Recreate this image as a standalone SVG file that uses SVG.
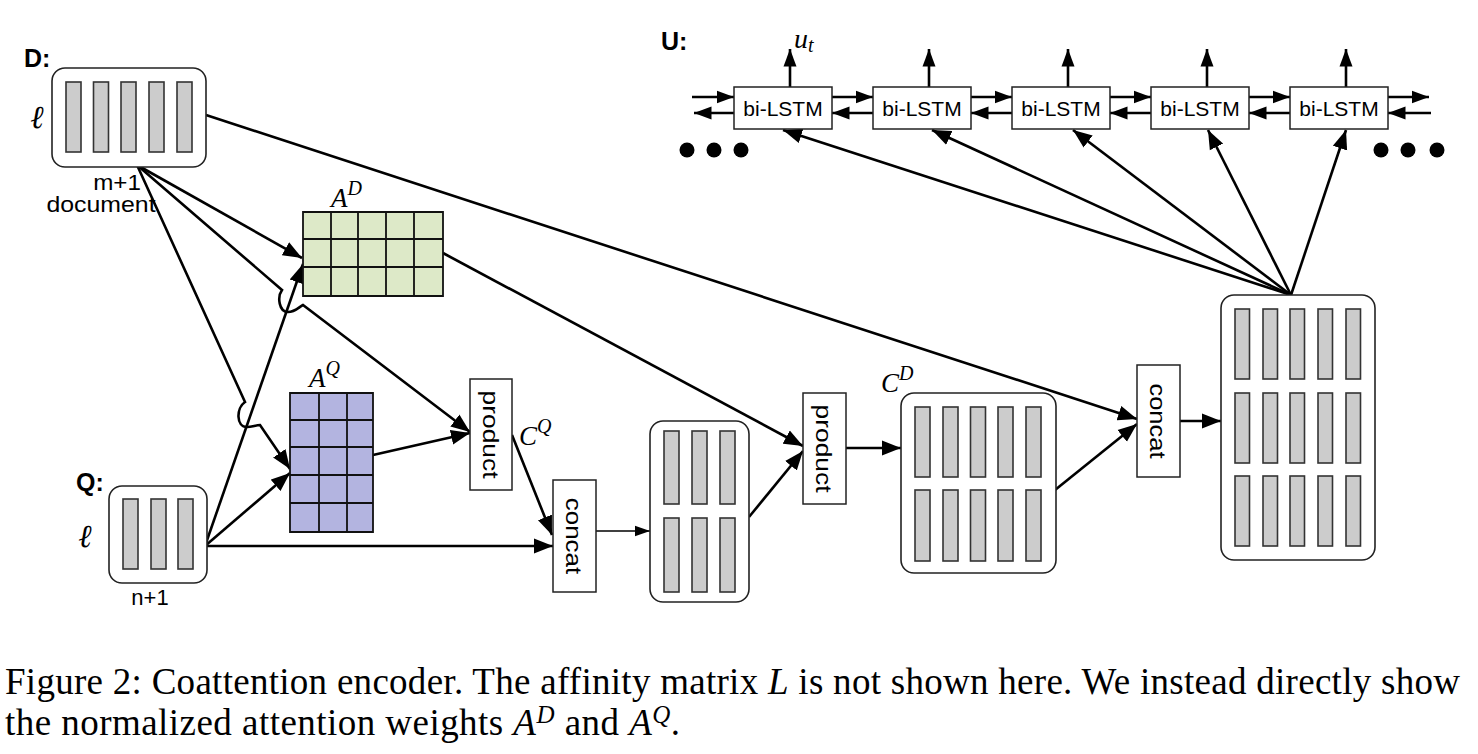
<svg xmlns="http://www.w3.org/2000/svg" width="1478" height="754" viewBox="0 0 1478 754">
<defs>
<marker id="ah" markerUnits="userSpaceOnUse" viewBox="0 0 20 16" markerWidth="20" markerHeight="16" refX="19" refY="8" orient="auto">
<path d="M0,0.5 L19,8 L0,15.5 z" fill="#000"/>
</marker>
<marker id="ahs" markerUnits="userSpaceOnUse" viewBox="0 0 18 14" markerWidth="18" markerHeight="14" refX="17.5" refY="7" orient="auto">
<path d="M0,0.5 L17.5,7 L0,13.5 z" fill="#000"/>
</marker>
<marker id="aht" markerUnits="userSpaceOnUse" viewBox="0 0 16 13" markerWidth="16" markerHeight="13" refX="15.5" refY="6.5" orient="auto">
<path d="M0,1 L15.5,6.5 L0,12 z" fill="#000"/>
</marker>
</defs>
<style>
.blk{fill:#fff;stroke:#222;stroke-width:1.6}
.bar{fill:#cccccc;stroke:#333;stroke-width:1.6}
.box{fill:#fff;stroke:#222;stroke-width:1.5}
.grid{fill:none;stroke:#111;stroke-width:1.8}
.ln{fill:none;stroke:#000;stroke-width:2.6;marker-end:url(#ah)}
.ls{fill:none;stroke:#000;stroke-width:2.6;marker-end:url(#ahs)}
.lt{fill:none;stroke:#000;stroke-width:1.5;marker-end:url(#aht)}
.sans{font-family:"Liberation Sans",Arial,sans-serif;fill:#000}
.bold{font-family:"Liberation Sans",Arial,sans-serif;font-weight:bold;font-size:25px;fill:#000}
.math{font-family:"Liberation Serif","DejaVu Serif",serif;font-style:italic;fill:#000}
.ell{font-family:"DejaVu Serif","Liberation Serif",serif;font-style:italic;font-size:32px;fill:#000}
.cap{font-family:"Liberation Serif","Times New Roman",serif;font-size:37px;fill:#000}
</style>

<g id="connectors">
<path class="ln" d="M206,115 L1137,419"/>
<path class="ln" d="M137,165 L302,258"/>
<path class="ln" d="M137,165 L282,290 C277,297 279,312 288,312 C295,312 299,307 303,305 L470,432"/>
<path class="ln" d="M137,165 L245,402 C236,408 236,427 247,427 C252,427 256,425 260,425 L290,469"/>
<path class="ln" d="M205,546 L303,264"/>
<path class="ln" d="M205,546 L290,473"/>
<path class="ln" d="M205,546 L553,546"/>
<path class="ln" d="M373,455 L470,433"/>
<path class="ln" d="M512,435 L552,535"/>
<path class="lt" d="M596,531 L650,531"/>
<path class="ln" d="M443,253 L803,446"/>
<path class="ln" d="M749,517 L803,451"/>
<path class="ln" d="M846,448 L901,448"/>
<path class="ln" d="M1055,490 L1137,424"/>
<path class="ln" d="M1180,421 L1221,421"/>
<path class="ln" d="M1291,295 L783,130"/>
<path class="ln" d="M1291,295 L932,130"/>
<path class="ln" d="M1291,295 L1073,130"/>
<path class="ln" d="M1291,295 L1208,130"/>
<path class="ln" d="M1291,295 L1346,130"/>
<path class="ls" d="M790,87 L790,49"/>
<path class="ls" d="M929,87 L929,49"/>
<path class="ls" d="M1068,87 L1068,49"/>
<path class="ls" d="M1207,87 L1207,49"/>
<path class="ls" d="M1346,87 L1346,49"/>
<path class="ls" d="M692,97 L734,97"/>
<path class="ls" d="M734,113 L694,113"/>
<path class="ls" d="M832,97 L873,97"/>
<path class="ls" d="M873,113 L832,113"/>
<path class="ls" d="M971,97 L1012,97"/>
<path class="ls" d="M1012,113 L971,113"/>
<path class="ls" d="M1110,97 L1151,97"/>
<path class="ls" d="M1151,113 L1110,113"/>
<path class="ls" d="M1249,97 L1290,97"/>
<path class="ls" d="M1290,113 L1249,113"/>
<path class="ls" d="M1388,97 L1429,97"/>
<path class="ls" d="M1431,113 L1388,113"/>
</g>

<g id="D">
<text class="bold" x="24" y="67">D:</text>
<rect class="blk" x="52" y="68" width="154" height="99" rx="13"/>
<rect class="bar" x="66" y="82" width="15" height="70"/>
<rect class="bar" x="93.5" y="82" width="15" height="70"/>
<rect class="bar" x="121" y="82" width="15" height="70"/>
<rect class="bar" x="149" y="82" width="15" height="70"/>
<rect class="bar" x="177" y="82" width="15" height="70"/>
<text class="ell" x="37" y="128" text-anchor="middle">ℓ</text>
<text class="sans" font-size="22" text-anchor="middle" transform="translate(117,190) scale(1.1,1)">m+1</text>
<text class="sans" font-size="22" text-anchor="middle" transform="translate(101,212) scale(1.13,1)">document</text>
</g>

<g id="Q">
<text class="bold" x="76" y="491">Q:</text>
<rect class="blk" x="109" y="486" width="98" height="97" rx="13"/>
<rect class="bar" x="123" y="499" width="15" height="70"/>
<rect class="bar" x="151" y="499" width="15" height="70"/>
<rect class="bar" x="178" y="499" width="15" height="70"/>
<text class="ell" x="85" y="547" text-anchor="middle">ℓ</text>
<text class="sans" x="150" y="605" font-size="22" text-anchor="middle">n+1</text>
</g>

<g id="AD">
<rect x="303" y="212" width="140" height="84" fill="#dde9c8"/>
<path class="grid" d="M303,212 H443 V296 H303 Z M331,212 V296 M358,212 V296 M386,212 V296 M414,212 V296 M303,239 H443 M303,267 H443"/>
<text class="math" x="331" y="207" font-size="27">A<tspan font-size="20" dy="-12">D</tspan></text>
</g>

<g id="AQ">
<rect x="290" y="393" width="83" height="139" fill="#b3b4e0"/>
<path class="grid" d="M290,393 H373 V532 H290 Z M319,393 V532 M347,393 V532 M290,420 H373 M290,447 H373 M290,475 H373 M290,503 H373"/>
<text class="math" x="309" y="387" font-size="27">A<tspan font-size="20" dy="-12">Q</tspan></text>
</g>

<g id="product1">
<rect class="box" x="470" y="379" width="42" height="111"/>
<text class="sans" font-size="22" text-anchor="middle" transform="translate(491,434.5) rotate(90) scale(1.2,1)" dy="8">product</text>
</g>
<text class="math" x="519" y="445" font-size="27">C<tspan font-size="20" dy="-12">Q</tspan></text>

<g id="concat1">
<rect class="box" x="553" y="480" width="43" height="112"/>
<text class="sans" font-size="22" text-anchor="middle" transform="translate(574.5,536) rotate(90) scale(1.18,1)" dy="8">concat</text>
</g>

<g id="middle">
<rect class="blk" x="650" y="421" width="99" height="181" rx="13"/>
<rect class="bar" x="664" y="431" width="15" height="73"/>
<rect class="bar" x="692" y="431" width="15" height="73"/>
<rect class="bar" x="720" y="431" width="15" height="73"/>
<rect class="bar" x="664" y="518" width="15" height="74"/>
<rect class="bar" x="692" y="518" width="15" height="74"/>
<rect class="bar" x="720" y="518" width="15" height="74"/>
</g>

<g id="product2">
<rect class="box" x="803" y="393" width="43" height="111"/>
<text class="sans" font-size="22" text-anchor="middle" transform="translate(824.5,448.5) rotate(90) scale(1.2,1)" dy="8">product</text>
</g>

<g id="CD">
<text class="math" x="881" y="392" font-size="27">C<tspan font-size="20" dy="-12">D</tspan></text>
<rect class="blk" x="901" y="393" width="155" height="180" rx="13"/>
<rect class="bar" x="915" y="407" width="15" height="70"/>
<rect class="bar" x="943" y="407" width="15" height="70"/>
<rect class="bar" x="970.5" y="407" width="15" height="70"/>
<rect class="bar" x="998" y="407" width="15" height="70"/>
<rect class="bar" x="1026" y="407" width="15" height="70"/>
<rect class="bar" x="915" y="490" width="15" height="71"/>
<rect class="bar" x="943" y="490" width="15" height="71"/>
<rect class="bar" x="970.5" y="490" width="15" height="71"/>
<rect class="bar" x="998" y="490" width="15" height="71"/>
<rect class="bar" x="1026" y="490" width="15" height="71"/>
</g>

<g id="concat2">
<rect class="box" x="1137" y="365" width="43" height="112"/>
<text class="sans" font-size="22" text-anchor="middle" transform="translate(1158.5,421) rotate(90) scale(1.16,1)" dy="8">concat</text>
</g>

<g id="final">
<rect class="blk" x="1221" y="295" width="154" height="265" rx="13"/>
<rect class="bar" x="1235" y="309" width="14.5" height="70"/>
<rect class="bar" x="1263" y="309" width="14.5" height="70"/>
<rect class="bar" x="1290" y="309" width="14.5" height="70"/>
<rect class="bar" x="1318" y="309" width="14.5" height="70"/>
<rect class="bar" x="1346" y="309" width="14.5" height="70"/>
<rect class="bar" x="1235" y="393" width="14.5" height="70"/>
<rect class="bar" x="1263" y="393" width="14.5" height="70"/>
<rect class="bar" x="1290" y="393" width="14.5" height="70"/>
<rect class="bar" x="1318" y="393" width="14.5" height="70"/>
<rect class="bar" x="1346" y="393" width="14.5" height="70"/>
<rect class="bar" x="1235" y="476" width="14.5" height="70"/>
<rect class="bar" x="1263" y="476" width="14.5" height="70"/>
<rect class="bar" x="1290" y="476" width="14.5" height="70"/>
<rect class="bar" x="1318" y="476" width="14.5" height="70"/>
<rect class="bar" x="1346" y="476" width="14.5" height="70"/>
</g>

<g id="U">
<text class="bold" x="661" y="50">U:</text>
<text class="math" x="794" y="48" font-size="28">u<tspan font-size="20" dy="4">t</tspan></text>
<circle cx="687" cy="150" r="7.5"/>
<circle cx="714" cy="150" r="7.5"/>
<circle cx="741" cy="150" r="7.5"/>
<circle cx="1381" cy="150" r="7.5"/>
<circle cx="1408" cy="150" r="7.5"/>
<circle cx="1437" cy="150" r="7.5"/>
</g>
<g id="lstm1"><rect class="box" x="734" y="87" width="98" height="42"/><text class="sans" x="783" y="116" font-size="21" text-anchor="middle">bi-LSTM</text></g>
<g id="lstm2"><rect class="box" x="873" y="87" width="98" height="42"/><text class="sans" x="922" y="116" font-size="21" text-anchor="middle">bi-LSTM</text></g>
<g id="lstm3"><rect class="box" x="1012" y="87" width="98" height="42"/><text class="sans" x="1061" y="116" font-size="21" text-anchor="middle">bi-LSTM</text></g>
<g id="lstm4"><rect class="box" x="1151" y="87" width="98" height="42"/><text class="sans" x="1200" y="116" font-size="21" text-anchor="middle">bi-LSTM</text></g>
<g id="lstm5"><rect class="box" x="1290" y="87" width="98" height="42"/><text class="sans" x="1339" y="116" font-size="21" text-anchor="middle">bi-LSTM</text></g>

<g id="caption">
<text class="cap" x="5" y="694" textLength="1455">Figure 2: Coattention encoder. The affinity matrix <tspan font-style="italic">L</tspan> is not shown here. We instead directly show</text>
<text class="cap" x="5" y="735" textLength="675">the normalized attention weights <tspan font-style="italic">A</tspan><tspan font-style="italic" font-size="25" dy="-12">D</tspan><tspan dy="12"> and </tspan><tspan font-style="italic">A</tspan><tspan font-style="italic" font-size="25" dy="-12">Q</tspan><tspan dy="12">.</tspan></text>
</g>
</svg>
